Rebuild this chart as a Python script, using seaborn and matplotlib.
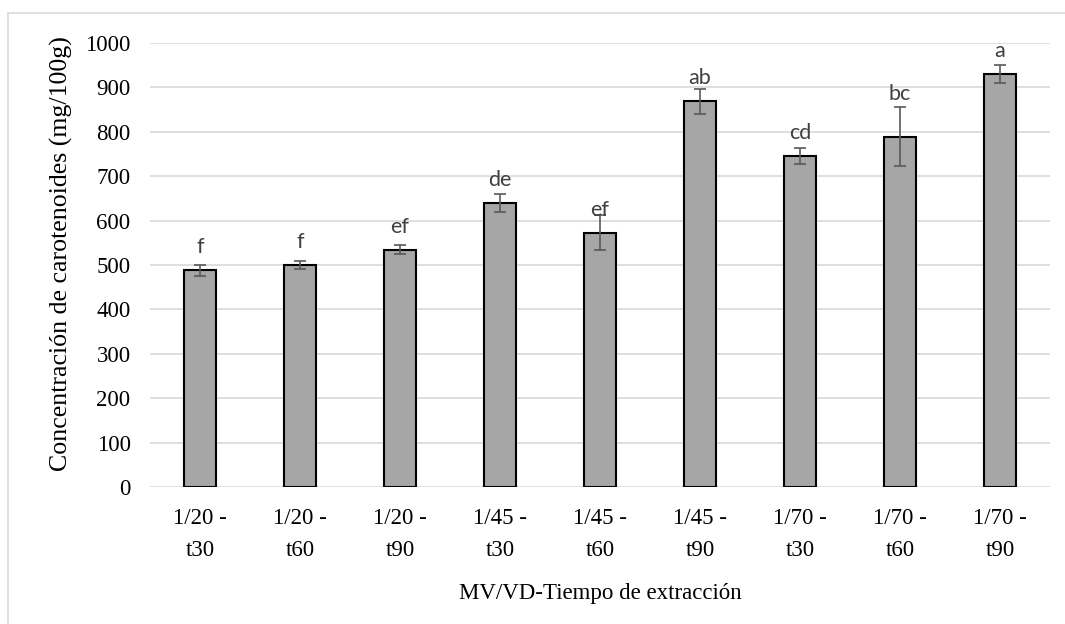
import matplotlib
matplotlib.use("Agg")
import matplotlib.pyplot as plt
import seaborn as sns
import pandas as pd
import numpy as np
from matplotlib.lines import Line2D

categories = ["1/20 -\nt30", "1/20 -\nt60", "1/20 -\nt90", "1/45 -\nt30", "1/45 -\nt60",
              "1/45 -\nt90", "1/70 -\nt30", "1/70 -\nt60", "1/70 -\nt90"]
values = [488, 500, 534, 640, 573, 869, 746, 789, 931]
errors = [12, 9, 10, 21, 39, 28, 18, 67, 20]
letters = ["f", "f", "ef", "de", "ef", "ab", "cd", "bc", "a"]

df = pd.DataFrame({"cat": categories, "val": values})

sns.set_theme(style="white")
plt.rcParams["font.family"] = ["Liberation Serif", "DejaVu Serif"]

fig = plt.figure(figsize=(10.65, 6.24), dpi=100)
ax = fig.add_axes([150 / 1065, 1 - 487 / 624, 900 / 1065, 444 / 624])

sns.barplot(data=df, x="cat", y="val", ax=ax, color="#a6a6a6", saturation=1,
            width=0.32, edgecolor="black", linewidth=1.5, errorbar=None, zorder=3)
ax.errorbar(np.arange(len(values)), values, yerr=errors, fmt="none",
            ecolor="#595959", elinewidth=1.2, capsize=4.5, capthick=1.2, zorder=4)

for i, (v, e, l) in enumerate(zip(values, errors, letters)):
    y = v + e + 15 if e > 60 else v + 38
    ax.text(i, y, l, ha="center", va="baseline", fontsize=15.5,
            family=["Lato", "DejaVu Sans"], color="#404040", zorder=5)

ax.set_ylim(0, 1000)
ax.set_xlim(-0.5, len(values) - 0.5)
ax.set_yticks(range(0, 1001, 100))
ax.yaxis.grid(True, color="#d9d9d9", linewidth=1.2, zorder=0)
ax.set_axisbelow(True)
for s in ax.spines.values():
    s.set_visible(False)
ax.tick_params(axis="both", length=0, labelsize=16.5, colors="black")
ax.tick_params(axis="y", pad=14)
ax.tick_params(axis="x", pad=15)
for t in ax.get_xticklabels():
    t.set_linespacing(1.7)
ax.set_xlabel("MV/VD-Tiempo de extracción", fontsize=16.5, labelpad=16, color="black")
ax.set_ylabel("Concentración de carotenoides (mg/100g)", fontsize=18.6, color="black")
ax.yaxis.set_label_coords(-0.0856, 0.525)

x0, y0 = 8 / 1065, 1 - 13 / 624
fig.add_artist(Line2D([x0, 1.0], [y0, y0], transform=fig.transFigure, color="#d9d9d9", linewidth=1.2))
fig.add_artist(Line2D([x0, x0], [0.0, y0], transform=fig.transFigure, color="#d9d9d9", linewidth=1.2))

fig.savefig("out.png", dpi=100)
